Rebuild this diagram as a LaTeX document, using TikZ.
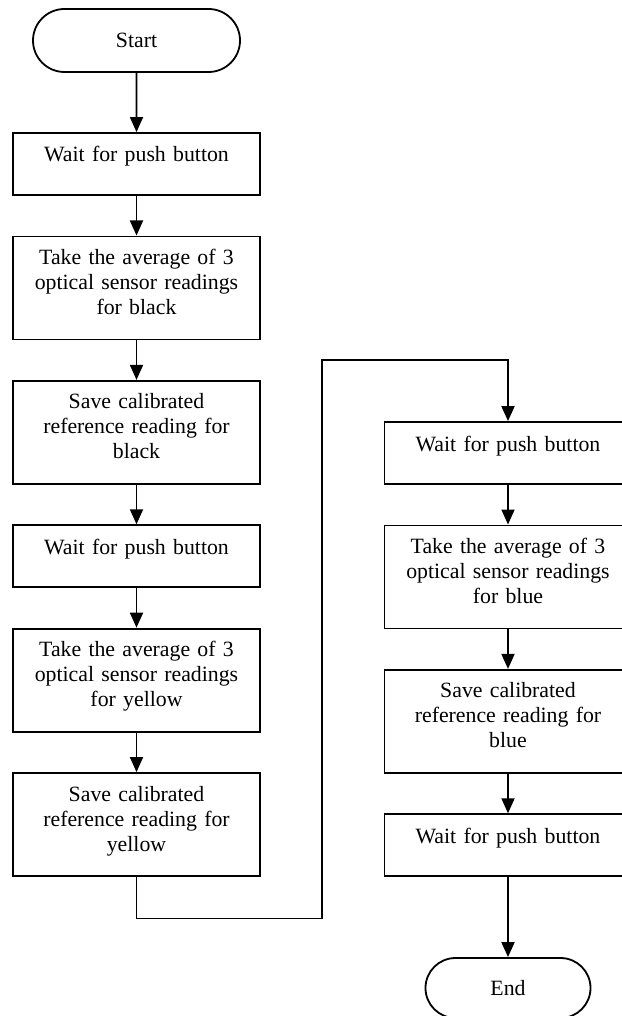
\documentclass[tikz,border=0pt]{standalone}
\usepackage{fontspec}
\setmainfont{Liberation Serif}
\usetikzlibrary{arrows.meta, positioning, shapes.misc}

\begin{document}
\begin{tikzpicture}[
  font=\fontsize{10.9pt}{12.5pt}\selectfont,
  node distance=19.8pt,
  box/.style     ={draw, rectangle, text width=123.5pt, align=center,
                   inner xsep=0pt, inner ysep=0pt, line width=0.9pt},
  onebox/.style  ={box, minimum height=31pt, text height=8pt, text depth=10pt},
  threebox/.style={box, minimum height=51.5pt, text depth=31pt},
  term/.style    ={draw, rounded rectangle, inner sep=0pt, line width=0.9pt},
  flow/.style    ={-{Triangle[length=7.5pt, width=6.5pt]}, line width=0.9pt},
]
\useasboundingbox (0,0) rectangle (310.5pt,-508pt);

% left column
\node[term, minimum width=103.5pt, minimum height=31.5pt] (start) at (68.25pt,-20.25pt) {Start};
\node[onebox, below=29.6pt of start] (wait1) {Wait for push button};
\node[threebox, below=of wait1] (avgblack)
      {Take the average of 3\\ optical sensor readings\\ for black};
\node[threebox, below=of avgblack] (saveblack)
      {Save calibrated\\ reference reading for\\ black};
\node[onebox, below=of saveblack] (wait2) {Wait for push button};
\node[threebox, below=of wait2] (avgyellow)
      {Take the average of 3\\ optical sensor readings\\ for yellow};
\node[threebox, below=of avgyellow] (saveyellow)
      {Save calibrated\\ reference reading for\\ yellow};

% right column
\node[onebox] (wait3) at (254pt,-226.5pt) {Wait for push button};
\node[threebox, below=of wait3] (avgblue)
      {Take the average of 3\\ optical sensor readings\\ for blue};
\node[threebox, below=of avgblue] (saveblue)
      {Save calibrated\\ reference reading for\\ blue};
\node[onebox, below=of saveblue] (wait4) {Wait for push button};
\node[term, minimum width=82.5pt, minimum height=30pt, below=40pt of wait4] (end) {End};

\coordinate (jump) at (161pt,-180pt);

\draw[flow] (start)      -- (wait1);
\draw[flow] (wait1)      -- (avgblack);
\draw[flow] (avgblack)   -- (saveblack);
\draw[flow] (saveblack)  -- (wait2);
\draw[flow] (wait2)      -- (avgyellow);
\draw[flow] (avgyellow)  -- (saveyellow);
\draw[flow] (saveyellow.south) -- ++(0,-20.8pt) -| (jump) -| (wait3.north);
\draw[flow] (wait3)      -- (avgblue);
\draw[flow] (avgblue)    -- (saveblue);
\draw[flow] (saveblue)   -- (wait4);
\draw[flow] (wait4)      -- (end);

\end{tikzpicture}
\end{document}
